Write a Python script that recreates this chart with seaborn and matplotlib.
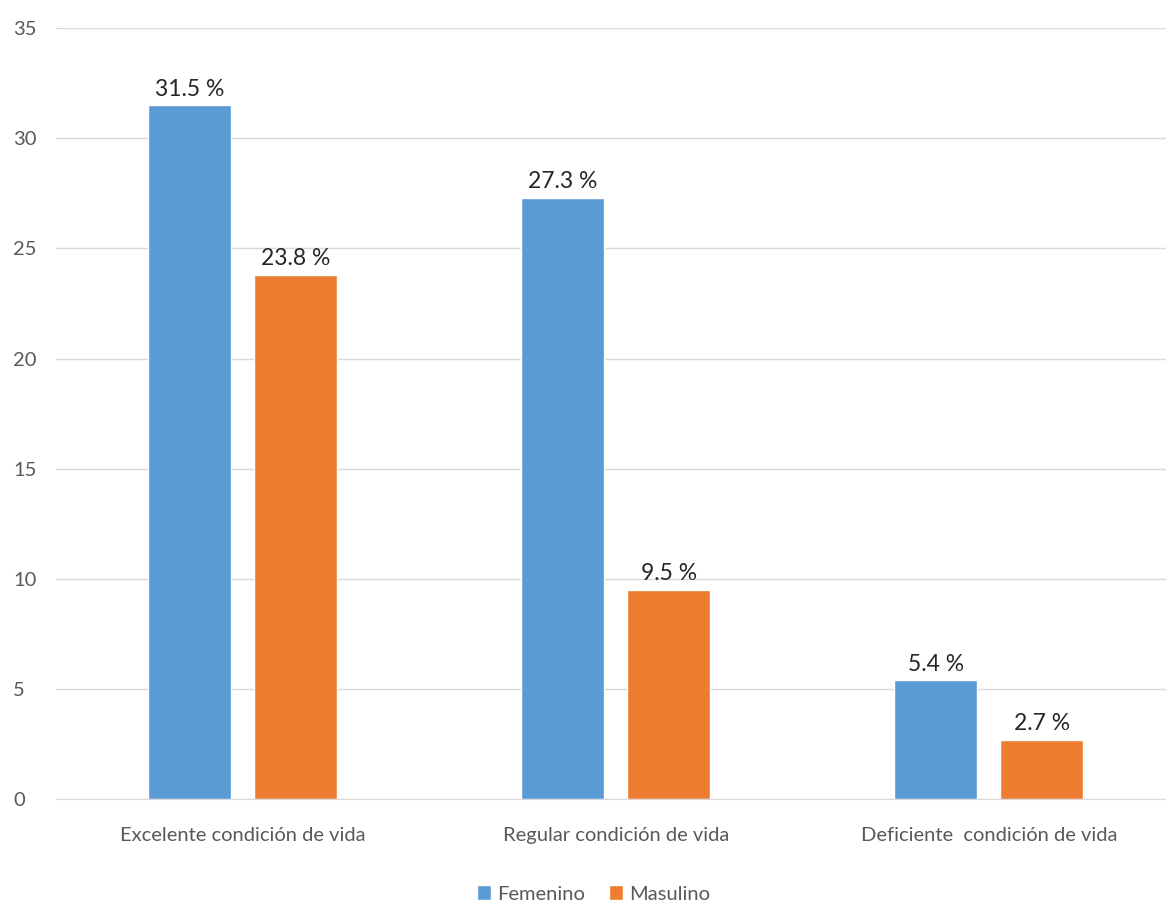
import pandas as pd
import matplotlib.pyplot as plt
import seaborn as sns

# Chart data
categorias = ['Excelente condición de vida', 'Regular condición de vida', 'Deficiente  condición de vida']
femenino = [31.5, 27.3, 5.4]
masulino = [23.8, 9.5, 2.7]
series = ['Femenino', 'Masulino']
colores = ['#5B9BD5', '#ED7D31']

df = pd.DataFrame({
    'Categoria': categorias * 2,
    'Valor': femenino + masulino,
    'Sexo': [series[0]] * 3 + [series[1]] * 3,
})

sns.set_style('white')
plt.rcParams['font.family'] = ['Lato', 'DejaVu Sans']

fig = plt.figure(figsize=(11.66, 9.05), dpi=100)
ax = fig.add_axes([0.048, 0.117, 0.96, 0.852])

sns.barplot(data=df, x='Categoria', y='Valor', hue='Sexo', order=categorias,
            hue_order=series, palette=colores, width=0.57, gap=0.22,
            saturation=1, ax=ax, zorder=3)

# Value labels above bars
for cont in ax.containers:
    ax.bar_label(cont, labels=[f'{v:.1f} %' for v in cont.datavalues],
                 padding=4, fontsize=16.5, color='#262626')

ax.set_ylim(0, 35)
ax.set_yticks(range(0, 36, 5))
ax.set_xlim(-0.5, 2.5)
ax.grid(axis='y', color='#d9d9d9', linewidth=1, zorder=0)
for s in ['top', 'right', 'left']:
    ax.spines[s].set_visible(False)
ax.spines['bottom'].set_color('#d9d9d9')
ax.set_xlabel('')
ax.set_ylabel('')
ax.tick_params(axis='both', length=0, labelsize=14.5, labelcolor='#595959')
ax.tick_params(axis='x', pad=20)
ax.tick_params(axis='y', pad=31)
for lbl in ax.get_yticklabels():
    lbl.set_horizontalalignment('left')

leg = ax.legend(loc='center', bbox_to_anchor=(0.48, -0.123), ncol=2, frameon=False,
                fontsize=14.5, handlelength=0.7, handleheight=0.7, handletextpad=0.3,
                columnspacing=1.2)
for t in leg.get_texts():
    t.set_color('#595959')

fig.savefig('out.png', dpi=100)
